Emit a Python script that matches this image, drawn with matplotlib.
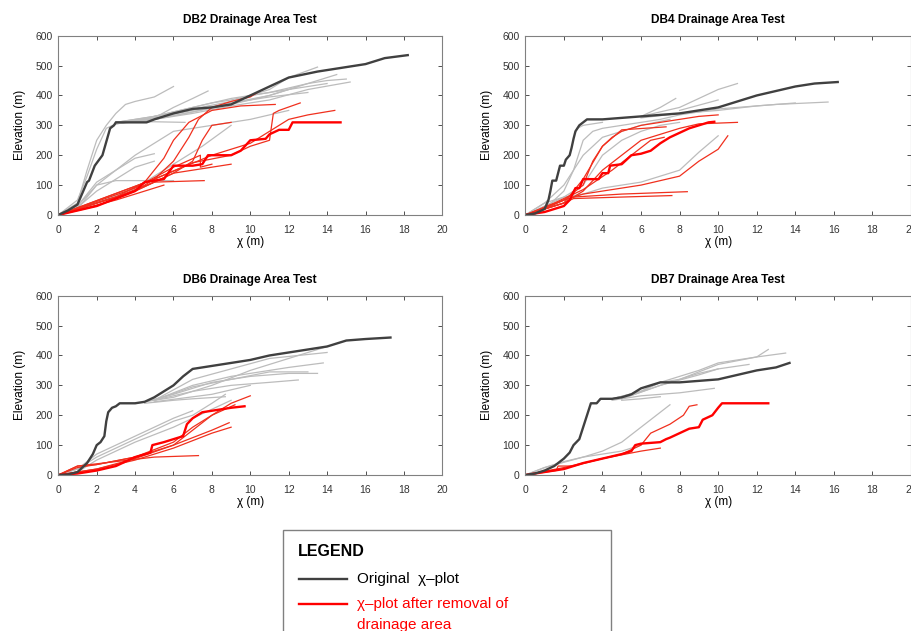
import matplotlib
matplotlib.use("Agg")
import matplotlib.pyplot as plt
from matplotlib.lines import Line2D
from matplotlib.patches import Rectangle

plt.rcParams['font.family'] = ['Liberation Sans', 'DejaVu Sans']

# ---- data: each line is (chi values, elevation values) ----
titles = ["DB2 Drainage Area Test", "DB4 Drainage Area Test",
          "DB6 Drainage Area Test", "DB7 Drainage Area Test"]
x_ticks = [0, 2, 4, 6, 8, 10, 12, 14, 16, 18, 20]
y_ticks = [0, 100, 200, 300, 400, 500, 600]

db2_black = ([0, 0.5, 1, 1.5, 1.6, 1.9, 2.3, 2.5, 2.7, 2.9, 3.0, 4.6, 5, 6, 7, 8, 9, 10, 11, 12, 13.5, 15, 16, 17, 18.2],
             [0, 15, 35, 110, 115, 165, 200, 245, 290, 300, 310, 310, 320, 340, 355, 360, 370, 400, 430, 460, 480, 495, 505, 525, 535])
db2_gray = [
    ([0, 1, 1.5, 2, 2.5, 3, 3.5, 4, 5, 6], [0, 40, 150, 250, 300, 340, 370, 380, 395, 430]),
    ([0, 1, 1.5, 2, 2.5, 3, 4, 5, 6, 7, 8, 9, 10, 11, 12, 13, 14, 15], [0, 50, 130, 220, 290, 305, 315, 330, 345, 360, 375, 385, 400, 410, 425, 440, 450, 455]),
    ([3, 5, 6, 7, 7.8], [310, 325, 360, 390, 415]),
    ([3, 5, 7, 9, 11, 12, 13.5], [310, 330, 355, 380, 420, 460, 495]),
    ([3, 5, 7, 9, 11, 13, 14.5], [305, 320, 345, 370, 400, 440, 470]),
    ([3, 5, 7, 9, 11, 13, 15.2], [310, 320, 340, 365, 385, 420, 445]),
    ([3, 5, 7, 9, 11, 12.5], [305, 325, 350, 375, 400, 430]),
    ([3, 5, 7, 9, 11, 14], [310, 330, 360, 390, 410, 440]),
    ([3, 5, 7, 9, 11, 13], [310, 320, 345, 375, 395, 410]),
    ([3, 5, 6.6], [310, 312, 310]),
    ([0, 1, 2, 3, 4, 5, 6, 7, 8, 9, 10, 11, 12], [0, 30, 100, 150, 200, 240, 280, 290, 300, 310, 320, 335, 350]),
    ([0, 1, 2, 3, 4, 5], [0, 30, 110, 150, 190, 205]),
    ([0, 1, 2, 3, 4, 5], [0, 25, 80, 120, 160, 180]),
    ([0, 1, 2, 3, 6], [0, 20, 100, 115, 115]),
    ([0, 2, 4, 6, 7.5, 9], [0, 40, 90, 170, 230, 300]),
]
db2_red_thick = ([0, 2, 4, 4.5, 5.5, 6, 7, 7.5, 7.8, 9, 9.5, 10, 10.8, 11, 11.5, 12, 12.2, 14.7],
                 [0, 30, 80, 110, 120, 165, 165, 170, 200, 200, 215, 250, 255, 270, 285, 285, 310, 310])
db2_red = [
    ([0, 2, 4, 5, 6, 6.8, 7.3, 8, 9, 10, 10.5], [0, 30, 80, 120, 180, 260, 320, 360, 380, 395, 415]),
    ([0, 3, 4.5, 5.5, 6, 6.8, 8, 9.5, 11.3], [0, 60, 110, 190, 250, 310, 350, 365, 370]),
    ([0, 4, 6, 7, 7.5, 8, 9], [0, 80, 140, 180, 250, 300, 310]),
    ([0, 5, 7, 9, 10, 11, 11.2, 11.5, 12.6], [0, 120, 175, 200, 230, 250, 340, 350, 375]),
    ([0, 5, 8, 10, 11, 12, 13, 14.4], [0, 120, 200, 240, 280, 320, 335, 350]),
    ([0, 4, 6, 8, 9], [0, 80, 140, 160, 170]),
    ([0, 3, 5, 7.6], [0, 60, 110, 115]),
    ([0, 3, 5.5], [0, 50, 100]),
    ([0, 4, 6, 7.4, 7.4, 8], [0, 90, 160, 200, 160, 170]),
]

db4_black = ([0, 0.5, 1, 1.2, 1.3, 1.4, 1.6, 1.7, 1.8, 2, 2.1, 2.3, 2.4, 2.5, 2.6, 2.8, 3, 3.2, 4, 6, 8, 10, 11, 12, 13, 14, 15, 16.2],
             [0, 5, 20, 50, 80, 115, 115, 140, 165, 165, 185, 200, 225, 255, 280, 300, 310, 320, 320, 330, 340, 360, 380, 400, 415, 430, 440, 445])
db4_gray = [
    ([2.7, 3, 4], [290, 300, 310]),
    ([0, 1, 2, 2.5, 3, 3.5, 4, 5, 6, 7, 8, 9, 10, 11, 13, 15.7], [0, 20, 80, 150, 250, 280, 290, 300, 310, 320, 335, 345, 355, 360, 370, 378]),
    ([6, 7, 7.8], [330, 360, 390]),
    ([6, 8, 9, 10, 11], [330, 360, 390, 420, 440]),
    ([8, 10], [350, 385]),
    ([6, 8, 10, 12, 14], [325, 340, 350, 365, 375]),
    ([0, 1, 2, 3, 4, 5, 6, 7, 8], [0, 40, 60, 100, 200, 250, 280, 300, 310]),
    ([0, 1, 2, 3, 4, 6, 8, 9, 10], [0, 30, 60, 70, 90, 110, 150, 210, 265]),
    ([0, 1, 2, 2.5, 3, 3.5, 4, 6, 7.5], [0, 40, 100, 150, 200, 230, 260, 300, 320]),
]
db4_red_thick = ([0, 1, 2, 2.3, 2.6, 2.8, 3, 3.8, 4, 4.3, 4.4, 5, 5.5, 6, 6.5, 7, 7.5, 8, 8.5, 9, 9.5, 9.8],
                 [0, 10, 30, 50, 90, 90, 120, 120, 140, 140, 165, 170, 200, 205, 215, 240, 260, 275, 290, 300, 310, 312])
db4_red = [
    ([0, 1, 2, 3, 3.5, 4, 4.5, 5, 6, 7, 8, 9, 10], [0, 20, 50, 100, 180, 230, 260, 280, 300, 310, 320, 330, 335]),
    ([0, 2, 3, 4, 5, 6, 7, 8, 9, 11], [0, 40, 80, 150, 200, 250, 270, 290, 305, 310]),
    ([0, 2, 3, 4, 6, 8, 9, 10, 10.5], [0, 50, 70, 80, 100, 130, 180, 220, 265]),
    ([0, 2, 2.5, 5, 8.4], [0, 50, 60, 70, 78]),
    ([0, 2, 2.5, 5, 7.6], [0, 40, 55, 60, 65]),
    ([0, 1.5, 3, 4.5, 5.5, 6.5, 7.2], [0, 40, 85, 150, 200, 250, 260]),
    ([0, 2, 3, 4, 5, 7.3], [0, 40, 120, 230, 285, 295]),
]

db6_black = ([0, 0.5, 1, 1.5, 1.8, 2, 2.2, 2.4, 2.5, 2.6, 2.8, 3, 3.2, 4, 4.5, 5, 5.5, 6, 6.5, 7, 7.5, 8, 9, 10, 11, 12, 13, 14, 15, 16, 17.3],
             [0, 2, 10, 40, 70, 100, 110, 130, 180, 210, 225, 230, 240, 240, 245, 260, 280, 300, 330, 355, 360, 365, 375, 385, 400, 410, 420, 430, 450, 455, 460])
db6_gray = [
    ([4.5, 6, 8, 10, 12, 14], [245, 260, 300, 350, 390, 430]),
    ([4.5, 6, 8, 10, 12, 13.5], [245, 270, 310, 330, 340, 340]),
    ([5, 7, 9, 11, 12.5], [250, 280, 300, 310, 318]),
    ([5, 7, 9, 11, 12, 13.8], [250, 300, 330, 350, 360, 375]),
    ([4.5, 6, 7, 8.7], [240, 250, 255, 262]),
    ([5, 7, 9, 11, 14], [250, 320, 355, 390, 410]),
    ([5, 7, 9, 11, 13], [250, 295, 320, 345, 345]),
    ([5, 8, 10], [245, 270, 300]),
    ([0, 1, 2, 4, 6, 7, 8, 8.7], [0, 20, 60, 120, 180, 200, 240, 270]),
    ([0, 1, 2, 4, 6, 8, 9], [0, 10, 50, 110, 160, 220, 250]),
    ([0, 1, 2, 4, 6, 7], [0, 20, 70, 130, 190, 215]),
]
db6_red_thick = ([0, 1, 2, 3, 4, 4.8, 4.9, 5.5, 6, 6.5, 6.7, 7, 7.5, 8, 8.5, 9, 9.7],
                 [0, 5, 15, 30, 60, 75, 100, 110, 120, 130, 170, 190, 210, 215, 220, 225, 230])
db6_red = [
    ([0, 1, 2, 4, 6, 7, 8, 9, 10], [0, 25, 35, 60, 100, 150, 200, 240, 265]),
    ([0, 1, 2, 4, 6, 7, 8, 9.2], [0, 30, 35, 60, 110, 160, 200, 235]),
    ([0, 2, 4, 6, 8, 8.9], [0, 20, 55, 100, 150, 175]),
    ([0, 1, 3, 5, 7.3], [0, 30, 45, 60, 65]),
    ([0, 2, 4, 6, 8, 9], [0, 20, 50, 90, 140, 160]),
]

db7_black = ([0, 0.5, 1, 1.5, 2, 2.3, 2.5, 2.8, 3, 3.2, 3.4, 3.7, 3.9, 4.5, 5, 5.5, 6, 6.5, 7, 8, 9, 10, 11, 12, 13, 13.7],
             [0, 5, 15, 30, 55, 75, 100, 120, 160, 200, 240, 240, 255, 255, 260, 270, 290, 300, 310, 310, 315, 320, 335, 350, 360, 375])
db7_gray = [
    ([4.5, 6, 7, 8, 9, 10, 11, 12, 12.6], [255, 280, 310, 330, 350, 375, 385, 395, 420]),
    ([4.5, 6, 7, 8, 10, 12, 13.5], [255, 280, 310, 320, 370, 395, 408]),
    ([5, 7, 9, 10, 11.6], [255, 300, 340, 355, 370]),
    ([5, 7, 9, 10], [255, 300, 335, 355]),
    ([4.5, 6, 8, 9.8], [250, 265, 275, 290]),
    ([5, 6, 7], [250, 255, 262]),
    ([0, 1, 2, 3, 4, 5, 6, 7, 7.5], [0, 25, 45, 60, 80, 110, 160, 210, 235]),
    ([0, 1, 3, 5, 6], [0, 25, 60, 80, 100]),
]
db7_red_thick = ([0, 1, 2, 3, 4, 5, 5.5, 5.7, 6, 7, 7.3, 7.5, 8, 8.5, 9, 9.2, 9.7, 10, 10.2, 12.6],
                 [0, 10, 20, 40, 55, 70, 80, 100, 105, 110, 120, 125, 140, 155, 160, 185, 200, 225, 240, 240])
db7_red = [
    ([0, 1.6, 1.7, 2.5, 4, 5, 6, 6.5, 7.5, 8.2, 8.5, 8.9], [0, 15, 30, 30, 55, 70, 100, 140, 170, 200, 230, 235]),
    ([0, 2, 4, 6, 7], [0, 25, 55, 80, 90]),
]

panels = [
    (db2_black, db2_gray, db2_red_thick, db2_red),
    (db4_black, db4_gray, db4_red_thick, db4_red),
    (db6_black, db6_gray, db6_red_thick, db6_red),
    (db7_black, db7_gray, db7_red_thick, db7_red),
]

# axes rectangles in figure fraction
boxes = [
    [0.0639, 0.6593, 0.4211, 0.2841],
    [0.5760, 0.6593, 0.4229, 0.2841],
    [0.0639, 0.2472, 0.4211, 0.2842],
    [0.5760, 0.2472, 0.4229, 0.2842],
]

fig = plt.figure(figsize=(9.12, 6.31), dpi=100)

for title, box, (black, grays, red_thick, reds) in zip(titles, boxes, panels):
    ax = fig.add_axes(box)
    for gx, gy in grays:
        ax.plot(gx, gy, color='#bcbcbc', lw=0.9)
    for rx, ry in reds:
        ax.plot(rx, ry, color='#f0301e', lw=0.9)
    ax.plot(red_thick[0], red_thick[1], color='#ff0000', lw=1.7)
    ax.plot(black[0], black[1], color='#404040', lw=1.7)
    ax.set_xlim(0, 20)
    ax.set_ylim(0, 600)
    ax.set_xticks(x_ticks)
    ax.set_yticks(y_ticks)
    ax.tick_params(direction='in', top=True, right=True, length=3, width=0.6,
                   labelsize=7.5, colors='#333333')
    ax.tick_params(axis='x', pad=7)
    ax.tick_params(axis='y', pad=4)
    for s in ax.spines.values():
        s.set_color('#808080')
        s.set_linewidth(0.8)
    ax.set_title(title, fontsize=8.6, fontweight='bold', pad=9)
    ax.set_xlabel('χ (m)', fontsize=8.5, labelpad=1)
    ax.set_ylabel('Elevation (m)', fontsize=8.6, labelpad=7)

# legend box
fig.patches.append(Rectangle((283 / 912, -0.02), (611 - 283) / 912, (631 - 530) / 631 + 0.02,
                             transform=fig.transFigure, fill=False, edgecolor='#808080', lw=1))
fig.text(298 / 912, 1 - 551 / 631, 'LEGEND', fontsize=11.5, fontweight='bold', va='center')
fig.lines.append(Line2D([299 / 912, 347 / 912], [1 - 579 / 631, 1 - 579 / 631],
                        transform=fig.transFigure, color='#404040', lw=1.7))
fig.text(357 / 912, 1 - 579 / 631, 'Original  χ–plot', fontsize=11, va='center')
fig.lines.append(Line2D([299 / 912, 347 / 912], [1 - 604 / 631, 1 - 604 / 631],
                        transform=fig.transFigure, color='#ff0000', lw=1.7))
fig.text(357 / 912, 1 - 604 / 631, 'χ–plot after removal of', fontsize=11, va='center', color='#ff0000')
fig.text(357 / 912, 1 - 625 / 631, 'drainage area', fontsize=11, va='center', color='#ff0000')

fig.savefig('out.png', dpi=100)
